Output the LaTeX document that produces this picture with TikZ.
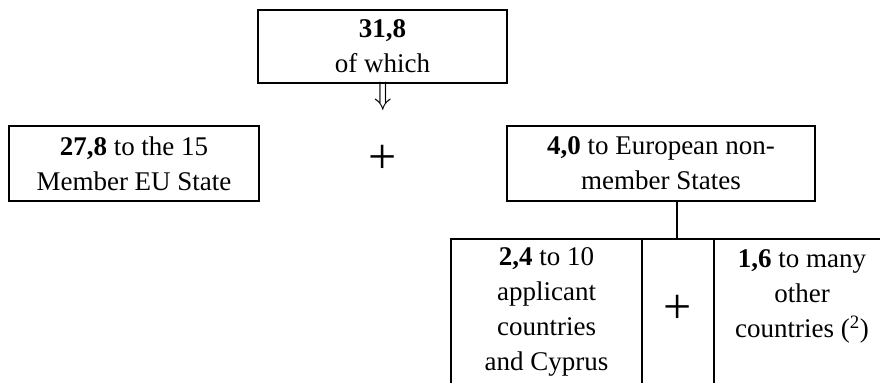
\documentclass[tikz,border=0pt]{standalone}
\usepackage{graphicx}
\usepackage{fontspec}
\setmainfont{Liberation Serif}
\begin{document}
\begin{tikzpicture}[x=1pt,y=-1pt,
  every node/.style={font=\fontsize{27}{35}\selectfont, inner sep=0pt, align=center},
  box/.style={draw, line width=1.8pt},
  rule/.style={line width=1.8pt},
  plussign/.style={font=\fontsize{50}{50}\selectfont}]
\useasboundingbox (0,0) rectangle (880,383);
\node[box, minimum width=249pt, minimum height=73pt] (top) at (382.5,46.5)
  {\textbf{31,8}\\of which};
\node (arr) at (383,104) {\smash{\scalebox{1.15}[1.3]{$\Downarrow$}}};
\node[box, minimum width=250pt, minimum height=75pt] (left) at (134,163.5)
  {\textbf{27,8} to the 15\\Member EU State};
\node[plussign] (plus1) at (383,159) {+};
\node[box, minimum width=308pt, minimum height=75pt] (right) at (661,163.5)
  {\textbf{4,0} to European non-\\member States};
\coordinate (j) at (677,239);
\coordinate (tl) at (451,239);
\coordinate (tr) at (880,239);
\coordinate (bl) at (451,383);
\coordinate (d1t) at (642,239);
\coordinate (d1b) at (642,383);
\coordinate (d2t) at (714,239);
\coordinate (d2b) at (714,383);
\draw[rule] (right.south -| j) -- (j);
\draw[rule] (bl) -- (tl) -- (tr);
\draw[rule] (d1t) -- (d1b);
\draw[rule] (d2t) -- (d2b);
\node (c1) at (546.5,312) {\textbf{2,4} to 10\\applicant\\countries\\and Cyprus};
\node[plussign] (plus2) at (678,309) {+};
\node (c3) at (802,296) {\textbf{1,6} to many\\other\\countries (\textsuperscript{2})};
\end{tikzpicture}
\end{document}
